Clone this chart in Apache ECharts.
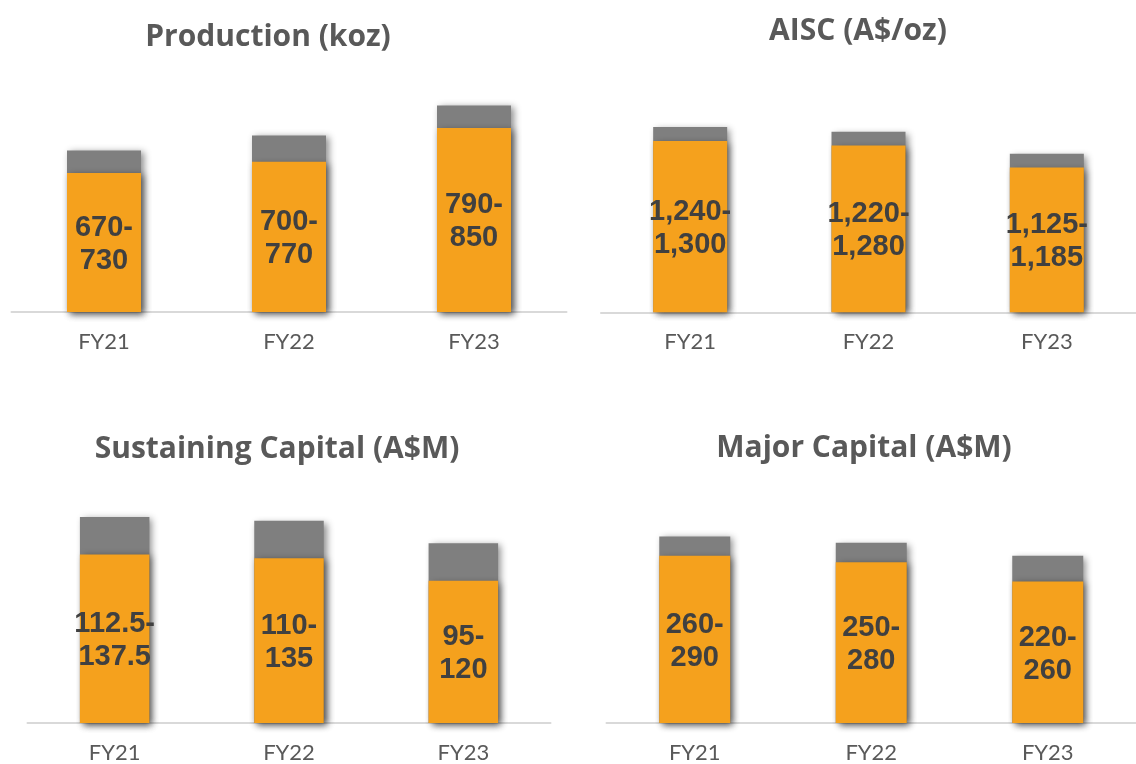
<!DOCTYPE html>
<html>
<head>
<meta charset="utf-8">
<script src="https://cdn.jsdelivr.net/npm/echarts@6/dist/echarts.min.js"></script>
<style>
html,body{margin:0;padding:0;background:#fff;}
#chart{width:1136px;height:764px;}
</style>
</head>
<body>
<div id="chart"></div>
<script>
// ---- data ----
const categories = ['FY21', 'FY22', 'FY23'];
const panelTitles = ['Production (koz)', 'AISC (A$/oz)', 'Sustaining Capital (A$M)', 'Major Capital (A$M)'];
const productionLow = [670, 700, 790];
const productionHigh = [730, 770, 850];
const aiscLow = [1240, 1220, 1125];
const aiscHigh = [1300, 1280, 1185];
const sustainingLow = [112.5, 110, 95];
const sustainingHigh = [137.5, 135, 120];
const majorLow = [260, 250, 220];
const majorHigh = [290, 280, 260];

// ---- layout ----
const ORANGE = '#F5A11D';
const GREY = '#7F7F7F';
const panels = [
  { low: productionLow, high: productionHigh, grid: { left: 11.5, top: 86.6, width: 555, height: 225.4 }, min: 300, max: 900, barWidth: 74, title: { x: 268, y: 20 } },
  { low: aiscLow, high: aiscHigh, grid: { left: 601, top: 80.8, width: 552, height: 231.5 }, min: 500, max: 1500, barWidth: 74, title: { x: 858, y: 14 } },
  { low: sustainingLow, high: sustainingHigh, grid: { left: 27.5, top: 483.3, width: 523, height: 240 }, min: 0, max: 160, barWidth: 69.5, title: { x: 277, y: 432 } },
  { low: majorLow, high: majorHigh, grid: { left: 606.5, top: 497.8, width: 532, height: 228.9 }, min: 0, max: 350, barWidth: 71, title: { x: 864, y: 431 } }
];

const fmt = v => v.toLocaleString('en-US');
const shadow = { shadowBlur: 7, shadowColor: 'rgba(0,0,0,0.45)', shadowOffsetX: 3, shadowOffsetY: 2 };

const option = {
  backgroundColor: '#ffffff',
  animation: false,
  title: panels.map((p, i) => ({
    text: panelTitles[i],
    left: p.title.x,
    top: p.title.y,
    textAlign: 'center',
    padding: 0,
    textStyle: { fontFamily: 'Open Sans', fontWeight: 'bold', fontSize: 30, lineHeight: 34, color: '#595959' }
  })),
  grid: panels.map(p => Object.assign({ containLabel: false }, p.grid)),
  xAxis: panels.map((p, i) => ({
    type: 'category',
    gridIndex: i,
    data: categories,
    axisLine: { show: true, lineStyle: { color: '#D9D9D9', width: 2 } },
    axisTick: { show: false },
    axisLabel: { margin: 19, fontFamily: 'Lato', fontSize: 22, lineHeight: 22, color: '#595959' },
    z: 1
  })),
  yAxis: panels.map((p, i) => ({
    type: 'value',
    gridIndex: i,
    min: p.min,
    max: p.max,
    show: false,
    splitLine: { show: false }
  })),
  series: []
};

panels.forEach((p, i) => {
  option.series.push({
    type: 'bar',
    xAxisIndex: i,
    yAxisIndex: i,
    data: p.high,
    barWidth: p.barWidth,
    itemStyle: Object.assign({ color: GREY }, shadow),
    z: 2
  });
  option.series.push({
    type: 'bar',
    xAxisIndex: i,
    yAxisIndex: i,
    data: p.low,
    barWidth: p.barWidth,
    barGap: '-100%',
    itemStyle: Object.assign({ color: ORANGE }, shadow),
    label: {
      show: true,
      position: 'inside',
      offset: [0, 2],
      formatter: params => fmt(p.low[params.dataIndex]) + '-\n' + fmt(p.high[params.dataIndex]),
      fontFamily: 'Liberation Sans',
      fontWeight: 'bold',
      fontSize: 29,
      lineHeight: 33,
      color: '#404040',
      align: 'center'
    },
    z: 3
  });
});

const chart = echarts.init(document.getElementById('chart'), null, { renderer: 'canvas' });
chart.setOption(option);
</script>
</body>
</html>
